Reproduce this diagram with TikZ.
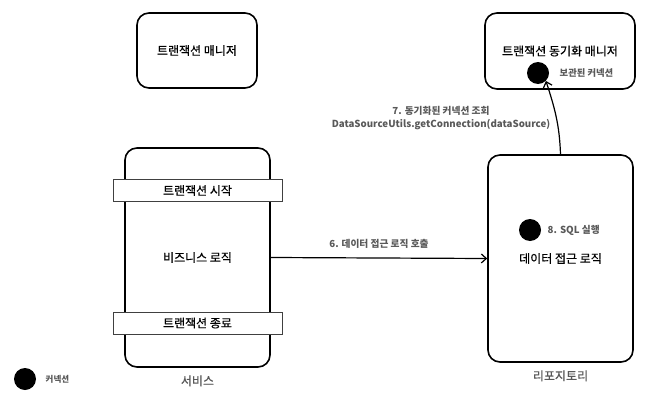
\documentclass[tikz,border=0pt]{standalone}
\usepackage{fontspec}
\setmainfont{Noto Sans CJK KR}
\newfontfamily\midfont[FakeBold=0.6]{Noto Sans CJK KR}
\usepackage{tikz}
\usetikzlibrary{positioning,arrows.meta}

\begin{document}
\begin{tikzpicture}[x=1pt, y=-1pt,
  comp/.style={draw, line width=1.6pt, rounded corners=12pt, align=center, font=\midfont\fontsize{12}{14}\selectfont},
  band/.style={draw=black!75, line width=0.6pt, fill=white, minimum width=169pt, minimum height=22pt, inner sep=0pt, font=\midfont\fontsize{12}{14}\selectfont},
  conn/.style={circle, fill=black, minimum size=22pt, inner sep=0pt},
  note/.style={font=\bfseries\fontsize{9.7}{13}\selectfont, text=black!65, align=center},
  caplbl/.style={font=\midfont\fontsize{12}{14}\selectfont, text=black!65},
  arr/.style={-{Straight Barb[length=5pt,width=9pt]}, line width=1.2pt}]
\useasboundingbox (0,0) rectangle (650,412);
% managers
\node[comp, minimum width=120pt, minimum height=75pt] (txm) at (197,50.5) {트랜잭션 매니저};
\node[comp, minimum width=150pt, minimum height=76pt] (sync) at (560,51) {트랜잭션 동기화 매니저};
\node[conn] (held) at (538,73) {};
\node[note, font=\bfseries\fontsize{9.3}{11}\selectfont, right=7pt of held] (heldl) {보관된 커넥션};
% service
\node[comp, minimum width=145pt, minimum height=219pt] (svc) at (197.5,257.5) {비즈니스 로직};
\node[band] (txbegin) at (197.5,190.5) {트랜잭션 시작};
\node[band] (txend) at (197.5,323) {트랜잭션 종료};
\node[caplbl, below=4pt of svc] (svcl) {서비스};
% repository
\node[comp, minimum width=145pt, minimum height=207pt] (repo) at (560.5,258.5) {데이터 접근 로직};
\node[conn] (sqlc) at (530,230) {};
\node[note, right=3pt of sqlc] (sqll) {8. SQL 실행};
\node[caplbl, below=4pt of repo] (repol) {리포지토리};
% legend
\node[conn] (leg) at (25,379) {};
\node[note, font=\bfseries\fontsize{8.5}{10}\selectfont, right=6pt of leg] (legl) {커넥션};
% calls
\draw[arr] (svc.east) -- node[note, above=6pt] (callA) {6. 데이터 접근 로직 호출} (repo.west);
\draw[arr] (repo.north) to[out=92, in=-72] (held.south east);
\node[note] (callB) at (441,118.5) {7. 동기화된 커넥션 조회\\DataSourceUtils.getConnection(dataSource)};
\end{tikzpicture}
\end{document}
